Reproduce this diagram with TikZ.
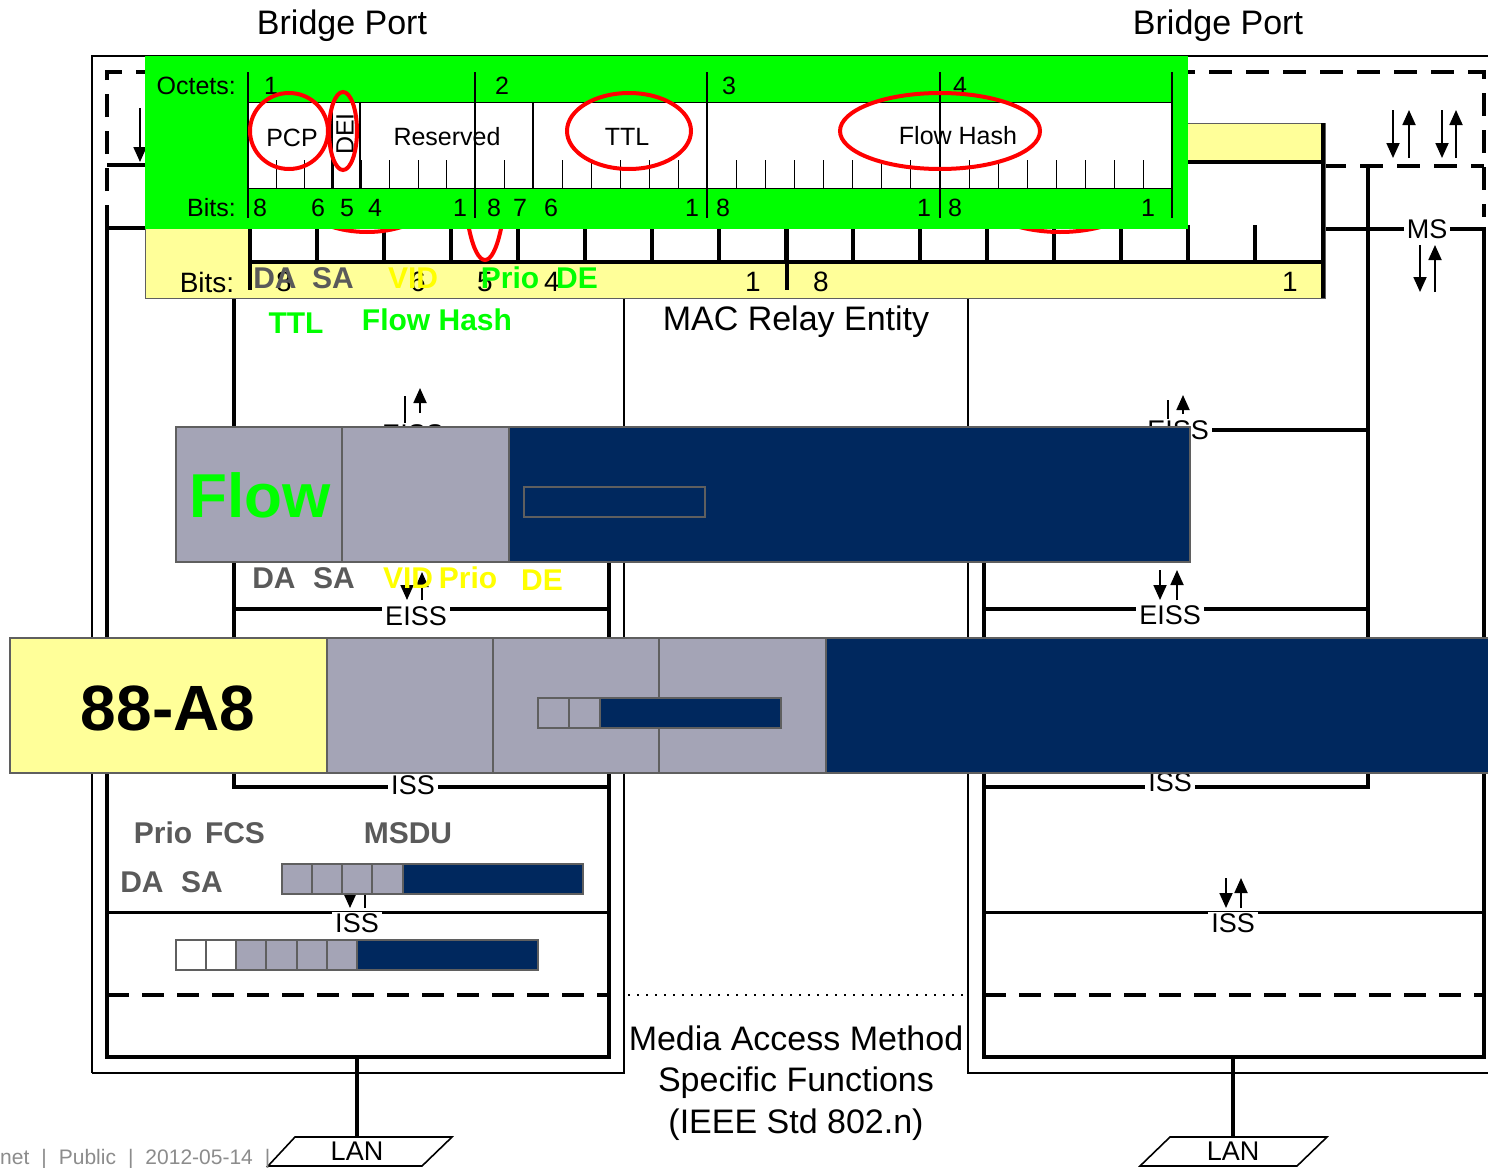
\documentclass[tikz,border=0pt]{standalone}
\usepackage{fontspec}
\setmainfont{Liberation Sans}
\usepackage{tikz}
\usetikzlibrary{arrows.meta}
\definecolor{edge}{HTML}{5F5F5F}
\definecolor{cellgray}{HTML}{A4A4B6}
\definecolor{framenavy}{HTML}{00285E}
\definecolor{paleyellow}{HTML}{FFFF99}
\definecolor{flashgreen}{HTML}{00FF00}
\definecolor{flashyellow}{HTML}{FFFF00}
\definecolor{ink}{HTML}{5A5A5A}
\definecolor{footgray}{HTML}{8C8C8C}
\newcommand{\fs}[1]{\fontsize{#1}{#1}\selectfont}
\tikzset{
  wire/.style={line width=3.6pt},
  hair/.style={line width=1.6pt},
  dashwire/.style={line width=3.6pt,dash pattern=on 23pt off 14pt},
  updown/.style={-{Triangle[length=15pt,width=13pt]},line width=1.8pt},
  cell/.style={draw=edge,line width=1.6pt},
  tag/.style={font=\fs{27},inner sep=1pt},
  gap/.style={tag,fill=white,inner xsep=3pt},
  hdr/.style={font=\fs{25},inner sep=0pt},
  ybit/.style={font=\fs{28},inner sep=0pt},
  field/.style={font=\bfseries\fs{30},inner sep=0pt},
  oval/.style={draw=red,line width=4pt}
}
\begin{document}
\begin{tikzpicture}[x=1pt,y=-1pt]
  \useasboundingbox (0,0) rectangle (1488,1167);
  \fill[white] (0,0) rectangle (1488,1167);

  % titles
  \node[font=\fs{34}] (portL) at (342,26) {Bridge Port};
  \node[font=\fs{34}] (portR) at (1218,26) {Bridge Port};

  % port frames and relay
  \draw[hair] (92,1073) -- (92,56) -- (1495,56);
  \draw[hair] (92,1073) -- (624,1073) -- (624,56);
  \draw[hair] (1495,1073) -- (968,1073) -- (968,56);
  \draw[dashwire] (107,228) -- (107,72) -- (1484,72) -- (1484,217);
  \draw[dashwire] (1323,166) -- (1484,166);

  % left port layers
  \draw[wire] (145,228) -- (107,228) -- (107,1057) -- (609,1057) -- (609,540);
  \draw[wire] (107,165) -- (145,165);
  \draw[wire] (234,290) -- (234,787) -- (609,787);
  \draw[wire] (234,430) -- (609,430);
  \draw[wire] (234,609) -- (609,609);
  \draw[line width=3pt] (107,912) -- (609,912);
  \draw[dashwire,dash pattern=on 22pt off 13pt] (107,995) -- (609,995);

  % right port layers
  \draw[wire] (1323,229) -- (1484,229) -- (1484,1057) -- (984,1057) -- (984,540);
  \draw[wire] (1368,166) -- (1368,787) -- (984,787);
  \draw[wire] (1100,430) -- (1368,430);
  \draw[wire] (984,609) -- (1368,609);
  \draw[line width=3pt] (984,912) -- (1484,912);
  \draw[dashwire,dash pattern=on 22pt off 13pt] (984,995) -- (1484,995);
  \draw[line width=1.6pt,dash pattern=on 1.6pt off 7.4pt] (628,995) -- (966,995);

  % service arrows
  \draw[updown] (140,108) -- (140,162);
  \draw[updown] (405,396) -- (405,441);
  \draw[updown] (420,413) -- (420,388);
  \draw[updown] (1168,400) -- (1168,438);
  \draw[updown] (1183,414) -- (1183,395);
  \draw[updown] (407,572) -- (407,600);
  \draw[updown] (422,600) -- (422,572);
  \draw[updown] (1160,570) -- (1160,600);
  \draw[updown] (1177,600) -- (1177,570);
  \draw[updown] (350,870) -- (350,908);
  \draw[updown] (365,908) -- (365,870);
  \draw[updown] (1226,878) -- (1226,908);
  \draw[updown] (1241,908) -- (1241,878);
  \draw[updown] (1393,110) -- (1393,158);
  \draw[updown] (1409,158) -- (1409,110);
  \draw[updown] (1442,110) -- (1442,158);
  \draw[updown] (1456,158) -- (1456,110);
  \draw[updown] (1420,245) -- (1420,292);
  \draw[updown] (1435,292) -- (1435,245);

  % service labels
  \node[gap] (eissUL) at (413,434) {EISS};
  \node[gap] (eissUR) at (1178,430) {EISS};
  \node[gap] (eissLL) at (416,616) {EISS};
  \node[gap] (eissLR) at (1170,615) {EISS};
  \node[gap] (issUL) at (413,785) {ISS};
  \node[gap] (issUR) at (1170,782) {ISS};
  \node[gap] (issLL) at (357,923) {ISS};
  \node[gap] (issLR) at (1233,923) {ISS};
  \node[gap] (ms) at (1427,229) {MS};

  % tag header, yellow copy
  \fill[paleyellow] (145,123) rectangle (1325,298);
  \draw[edge,line width=1pt] (145,123) rectangle (1325,298);
  \fill[white] (250,162) rectangle (1323,262);
  \draw[wire] (250,162) -- (1323,162);
  \draw[wire] (250,262) -- (1323,262);
  \draw[wire] (250,162) -- (250,290);
  \draw[wire] (787,123) -- (787,290);
  \draw[wire] (1323,123) -- (1323,298);
  \foreach \k in {1,...,15}
    \draw[wire] ({250+67*\k},225) -- ({250+67*\k},262);
  \draw[oval] (367,150) ellipse [x radius=100,y radius=82];
  \draw[oval] (485,160) ellipse [x radius=22,y radius=100];
  \draw[oval] (1060,150) ellipse [x radius=118,y radius=82];
  \node[ybit] (ybits) at (207,282) {Bits:};
  \foreach \x/\b in {284/8,418/6,485/5,552/4,753/1,821/8,1290/1}
    \node[ybit] at (\x,282) {\b};

  % tag header, green copy
  \fill[flashgreen] (145,56) rectangle (1188,229);
  \fill[white] (248,102) rectangle (1172,188);
  \draw[line width=1pt] (248,102) -- (1172,102) (248,188) -- (1172,188);
  \foreach \x in {248,475,707,940,1172}
    \draw[line width=1.2pt] (\x,72) -- (\x,218);
  \foreach \x in {332,360,533}
    \draw[line width=1.2pt] (\x,102) -- (\x,188);
  \foreach \s/\w in {248/227,475/232,707/233,940/232}
    \foreach \k in {1,...,7}
      \draw[line width=1pt] ({\s+\w*\k/8},160) -- ({\s+\w*\k/8},188);
  \node[hdr,anchor=east] (octets) at (236,86) {Octets:};
  \foreach \x/\o in {271/1,502/2,729/3,960/4}
    \node[hdr] at (\x,86) {\o};
  \node[hdr,anchor=east] (gbits) at (236,208) {Bits:};
  \foreach \x/\b in {260/8,318/6,347/5,375/4,460/1,494/8,520/7,551/6,692/1,723/8,924/1,955/8,1148/1}
    \node[hdr] at (\x,208) {\b};
  \node[hdr] (pcp) at (292,138) {PCP};
  \node[hdr,rotate=90] (dei) at (345,134) {DEI};
  \node[hdr] (reserved) at (447,137) {Reserved};
  \node[hdr] (ttl) at (627,137) {TTL};
  \node[hdr] (hash) at (958,136) {Flow Hash};
  \draw[oval] (289,131) ellipse [x radius=39,y radius=38];
  \draw[oval] (343,131) ellipse [x radius=14,y radius=39];
  \draw[oval] (629,131) ellipse [x radius=62,y radius=38];
  \draw[oval] (940,131) ellipse [x radius=100,y radius=38];

  % field names over the header
  \node[field,text=ink] (daA) at (275,278) {DA};
  \node[field,text=ink] (saA) at (333,278) {SA};
  \node[field,text=flashyellow] (vidA) at (413,278) {VID};
  \node[field,text=flashgreen] (prioA) at (510,278) {Prio};
  \node[field,text=flashgreen] (deA) at (577,278) {DE};
  \node[field,text=flashgreen] (ttlA) at (296,323) {TTL};
  \node[field,text=flashgreen] (hashA) at (437,320) {Flow Hash};
  \node[font=\fs{34}] (relay) at (796,322) {MAC Relay Entity};

  % flow frame
  \fill[cellgray] (176,427) rectangle (509,562);
  \fill[framenavy] (509,427) rectangle (1190,562);
  \draw[cell] (176,427) rectangle (342,562) (342,427) rectangle (509,562) (509,427) rectangle (1190,562);
  \draw[cell] (524,487) rectangle (705,517);
  \node[font=\bfseries\fs{62},text=flashgreen,inner sep=0pt] (flow) at (260,495) {Flow};

  \node[field,text=ink] (daB) at (274,578) {DA};
  \node[field,text=ink] (saB) at (334,578) {SA};
  \node[field,text=flashyellow] (vidB) at (408,578) {VID};
  \node[field,text=flashyellow] (prioB) at (468,578) {Prio};
  \node[field,text=flashyellow] (deB) at (542,580) {DE};

  % ethertype frame
  \fill[paleyellow] (10,638) rectangle (327,773);
  \fill[cellgray] (327,638) rectangle (826,773);
  \fill[framenavy] (826,638) rectangle (1495,773);
  \draw[cell] (10,638) rectangle (327,773);
  \foreach \a/\b in {327/493,493/659,659/826,826/1495}
    \draw[cell] (\a,638) rectangle (\b,773);
  \fill[cellgray] (538,698) rectangle (600,728);
  \fill[framenavy] (600,698) rectangle (781,728);
  \draw[cell] (538,698) rectangle (569,728) (569,698) rectangle (600,728) (600,698) rectangle (781,728);
  \node[font=\bfseries\fs{64},inner sep=0pt] (ethertype) at (168,708) {88-A8};

  % lower frames
  \node[field,text=ink] (prioC) at (163,833) {Prio};
  \node[field,text=ink] (fcsC) at (235,833) {FCS};
  \node[field,text=ink] (msduC) at (408,833) {MSDU};
  \node[field,text=ink] (daC) at (142,882) {DA};
  \node[field,text=ink] (saC) at (202,882) {SA};
  \fill[cellgray] (282,864) rectangle (403,894);
  \fill[framenavy] (403,864) rectangle (583,894);
  \foreach \a/\b in {282/312,312/342,342/372,372/403,403/583}
    \draw[cell] (\a,864) rectangle (\b,894);
  \fill[cellgray] (236,940) rectangle (357,970);
  \fill[framenavy] (357,940) rectangle (538,970);
  \foreach \a/\b in {176/206,206/236,236/266,266/297,297/327,327/357,357/538}
    \draw[cell] (\a,940) rectangle (\b,970);

  % media access and LANs
  \node[align=center,font=\fontsize{34}{41.5}\selectfont] (mams) at (796,1083)
    {Media Access Method\\Specific Functions\\(IEEE Std 802.n)};
  \draw[wire] (357,1057) -- (357,1137);
  \draw[hair] (295,1137) -- (452,1137) -- (422,1166) -- (268,1166) -- cycle;
  \node[font=\fs{27},inner sep=0pt] (lanL) at (357,1151) {LAN};
  \draw[wire] (1233,1057) -- (1233,1137);
  \draw[hair] (1170,1137) -- (1327,1137) -- (1297,1166) -- (1140,1166) -- cycle;
  \node[font=\fs{27},inner sep=0pt] (lanR) at (1233,1151) {LAN};

  \node[anchor=west,font=\fs{21},text=footgray,inner sep=0pt] (footer) at (0,1159)
    {net\hspace{12pt}|\hspace{12pt}Public\hspace{12pt}|\hspace{12pt}2012-05-14\hspace{12pt}|};
\end{tikzpicture}
\end{document}
